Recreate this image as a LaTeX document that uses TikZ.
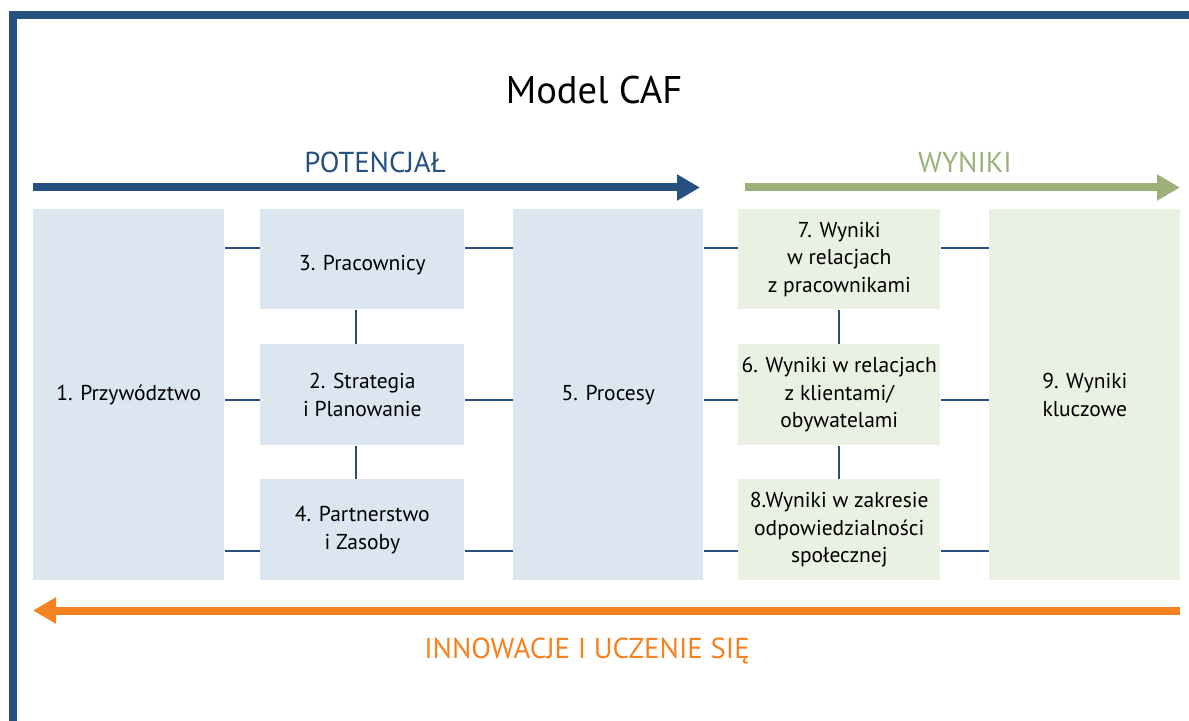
\documentclass[tikz,border=0pt]{standalone}
\usepackage{fontspec}
\setmainfont{PT Sans}
\usetikzlibrary{arrows.meta}

\definecolor{cafblue}{HTML}{25507F}
\definecolor{potfill}{HTML}{DCE6F1}
\definecolor{wynfill}{HTML}{EAF0E2}
\definecolor{wyngreen}{HTML}{9CB17A}
\definecolor{innorange}{HTML}{F58220}

\begin{document}
\begin{tikzpicture}[x=0.025cm,y=-0.025cm,
    potbox/.style={fill=potfill, inner sep=0pt, anchor=north west, align=center,
      font=\fontsize{15.3}{19.6}\selectfont},
    wynbox/.style={potbox, fill=wynfill},
    link/.style={cafblue, line width=2pt},
    bigarrow/.style={line width=0.2cm, -{Triangle[length=0.575cm,width=0.62cm]}},
    heading/.style={anchor=base, font=\fontsize{20.5}{24}\selectfont}]
    \useasboundingbox (0,0) rectangle (1189,721);
    % ramka
    \draw[cafblue, line width=0.2cm] (13,740) -- (13,15) -- (1210,15);
    \node[anchor=base, font=\fontsize{27.4}{32}\selectfont] (tytul) at (594,104) {Model CAF};
    % strzalki
    \coordinate (pot-a) at (33,187.5);
    \coordinate (pot-b) at (700,187.5);
    \coordinate (wyn-a) at (745,187.5);
    \coordinate (wyn-b) at (1180,187.5);
    \coordinate (inn-a) at (1180,610.5);
    \coordinate (inn-b) at (33,610.5);
    \draw[bigarrow, cafblue] (pot-a) -- (pot-b);
    \draw[bigarrow, wyngreen] (wyn-a) -- (wyn-b);
    \draw[bigarrow, innorange] (inn-a) -- (inn-b);
    \node[heading, text=cafblue] (potencjal) at (375,173) {POTENCJAŁ};
    \node[heading, text=wyngreen] (wyniki) at (965,173) {WYNIKI};
    \node[heading, text=innorange] (innowacje) at (587,658) {INNOWACJE I UCZENIE SIĘ};
    % potencjal
    \node[potbox, minimum width=4.775cm, minimum height=9.275cm] (b1) at (33,209) {1. Przywództwo};
    \node[potbox, minimum width=5.1cm, minimum height=2.5cm] (b3) at (260,209) {\rule{0pt}{19pt}3. Pracownicy};
    \node[potbox, minimum width=5.1cm, minimum height=2.525cm] (b2) at (260,344) {2. Strategia\\i Planowanie};
    \node[potbox, minimum width=5.1cm, minimum height=2.525cm] (b4) at (260,479) {4. Partnerstwo\\i Zasoby};
    \node[potbox, minimum width=4.75cm, minimum height=9.275cm] (b5) at (513,209) {5. Procesy};
    % wyniki
    \node[wynbox, minimum width=5.05cm, minimum height=2.5cm] (b7) at (738,209) {7. Wyniki\\w relacjach\\z pracownikami};
    \node[wynbox, minimum width=5.05cm, minimum height=2.525cm] (b6) at (738,344) {6. Wyniki w relacjach\\z klientami/\\obywatelami};
    \node[wynbox, minimum width=5.05cm, minimum height=2.525cm] (b8) at (738,479) {8.Wyniki w zakresie\\odpowiedzialności\\społecznej};
    \node[wynbox, minimum width=4.775cm, minimum height=9.275cm] (b9) at (989,209) {9. Wyniki\\kluczowe};
    % polaczenia
    \coordinate (r1) at (0,248);
    \coordinate (r2) at (0,400);
    \coordinate (r3) at (0,551);
    \coordinate (k1) at (356,0);
    \coordinate (k2) at (839,0);
    \foreach \a/\b in {b1/b3,b3/b5,b5/b7,b7/b9}
      \draw[link] (\a.east |- r1) -- (\b.west |- r1);
    \foreach \a/\b in {b1/b2,b2/b5,b5/b6,b6/b9}
      \draw[link] (\a.east |- r2) -- (\b.west |- r2);
    \foreach \a/\b in {b1/b4,b4/b5,b5/b8,b8/b9}
      \draw[link] (\a.east |- r3) -- (\b.west |- r3);
    \draw[link] (b3.south -| k1) -- (b2.north -| k1);
    \draw[link] (b2.south -| k1) -- (b4.north -| k1);
    \draw[link] (b7.south -| k2) -- (b6.north -| k2);
    \draw[link] (b6.south -| k2) -- (b8.north -| k2);
\end{tikzpicture}
\end{document}
